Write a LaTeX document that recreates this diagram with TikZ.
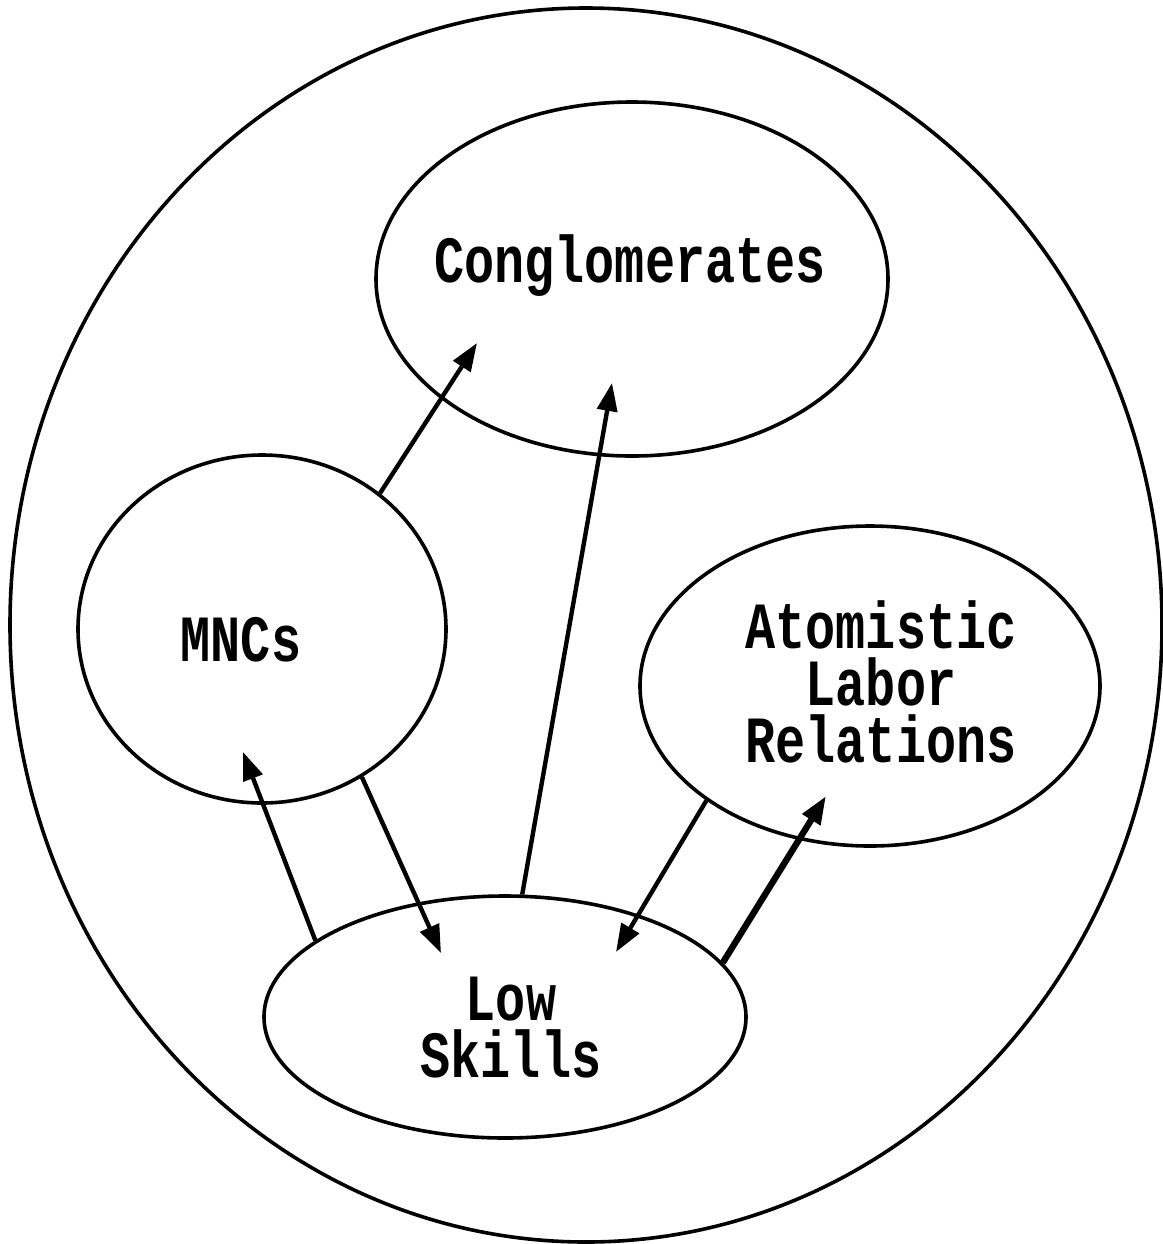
\documentclass[tikz,border=0pt]{standalone}
\usepackage{fontspec}
\newfontfamily\lblfont{Liberation Mono}[FakeStretch=0.76]
\usepackage{tikz}
\usetikzlibrary{shapes.geometric, arrows.meta}

\begin{document}
\begin{tikzpicture}[
      x=0.5pt, y=-0.5pt,
      blob/.style={draw, ellipse, line width=1.8pt, inner sep=0pt},
      lbl/.style={align=center, inner sep=0pt,
                  font=\lblfont\bfseries\fontsize{33}{28.5}\selectfont},
      arr/.style={-{Triangle[length=14pt, width=10pt]}, line width=2.2pt},
      fatarr/.style={arr, line width=3.2pt},
    ]
    \useasboundingbox (0,0) rectangle (1163,1244);

    %% outer frame
    \node[blob, minimum width=576pt, minimum height=617pt] (world) at (586,625) {};

    %% the four blobs
    \node[blob, minimum width=256pt, minimum height=177pt] (cong) at (632,279) {};
    \node[blob, minimum width=184pt, minimum height=174pt] (mnc)  at (262,629) {};
    \node[blob, minimum width=230pt, minimum height=160pt] (atom) at (870,686) {};
    \node[blob, minimum width=241pt, minimum height=121pt] (low)  at (505,1017) {};

    %% labels
    \node[lbl] (congtxt) at (630,266)  {Conglomerates};
    \node[lbl] (mnctxt)  at (241,640)  {MNCs};
    \node[lbl] (atomtxt) at (881,682)  {Atomistic\\Labor\\Relations};
    \node[lbl] (lowtxt)  at (511,1028) {Low\\Skills};

    %% arrow tips (inside the target blobs)
    \coordinate (tipA) at (477,343);
    \coordinate (tipB) at (612,383);
    \coordinate (tipC) at (243,752);
    \coordinate (tipD) at (441,953);
    \coordinate (tipE) at (616,952);
    \coordinate (tipF) at (826,796);

    \draw[arr]    (mnc.49.7)   -- (tipA);
    \draw[arr]    (low.82.4)   -- (tipB);
    \draw[arr]    (low.158.9)  -- (tipC);
    \draw[arr]    (mnc.-56.6)  -- (tipD);
    \draw[arr]    (atom.215.6) -- (tipE);
    \draw[fatarr] (low.14.5)   -- (tipF);
  \end{tikzpicture}
\end{document}
